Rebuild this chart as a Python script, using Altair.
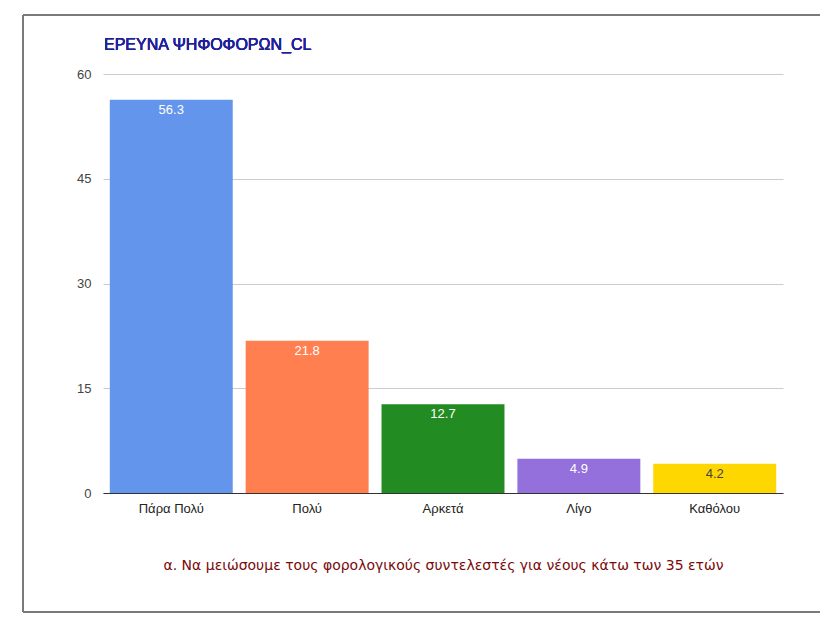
import altair as alt
import pandas as pd

categories = ["Πάρα Πολύ", "Πολύ", "Αρκετά", "Λίγο", "Καθόλου"]
values = [56.3, 21.8, 12.7, 4.9, 4.2]
colors = ["#6495ED", "#FF7F50", "#228B22", "#9370DB", "#FFD700"]
label_colors = ["#ffffff", "#ffffff", "#ffffff", "#ffffff", "#444444"]
y_ticks = [0, 15, 30, 45, 60]
title_text = "ΕΡΕΥΝΑ ΨΗΦΟΦΟΡΩΝ_CL"
x_title = "α. Να μειώσουμε τους φορολογικούς συντελεστές για νέους κάτω των 35 ετών"

df = pd.DataFrame({"cat": categories, "val": values, "color": colors, "lc": label_colors,
                   "lab": [f"{v:.1f}" for v in values]})

W, H = 680, 419

x = alt.X("cat:N", sort=categories, scale=alt.Scale(paddingInner=0.095, paddingOuter=0.05),
          axis=alt.Axis(title=x_title, labelAngle=0, ticks=False, labelPadding=9,
                        labelFont="Liberation Sans", labelFontSize=13, labelColor="#222222",
                        titleFont="DejaVu Sans", titleFontSize=14, titleFontWeight="normal",
                        titleColor="#7a0a0a", titlePadding=43, domainColor="#333333"))
y = alt.Y("val:Q", scale=alt.Scale(domain=[0, 60], nice=False),
          axis=alt.Axis(title=None, values=y_ticks, ticks=False, labelPadding=12,
                        labelFont="Liberation Sans", labelFontSize=13, labelColor="#444444",
                        gridColor="#cccccc", domain=False))

bars = alt.Chart(df).mark_bar().encode(
    x=x, y=y, color=alt.Color("color:N", scale=None))

labels = alt.Chart(df).mark_text(baseline="middle", dy=10, font="Liberation Sans", fontSize=13).encode(
    x=alt.X("cat:N", sort=categories), y="val:Q", text="lab:N", color=alt.Color("lc:N", scale=None))

border = alt.Chart(df).mark_rect(fill=None, stroke="#777777", strokeWidth=1).encode(
    x=alt.value(-80), x2=alt.value(719), y=alt.value(-59), y2=alt.value(538))

title = alt.Chart(df).mark_text(align="left", baseline="middle", font="Liberation Sans",
                                 fontSize=16, fontWeight="normal", color="#20209a").encode(
    x=alt.value(1), y=alt.value(-29), text=alt.value(title_text))

chart = alt.layer(border, bars, labels, title).properties(
    width=W, height=H,
    padding={"left": 103, "top": 74, "right": 37, "bottom": 145},
    autosize=alt.AutoSizeParams(type="none"),
).configure_view(stroke=None)

chart.save("out.html", embed_options={"renderer": "svg", "actions": False})
